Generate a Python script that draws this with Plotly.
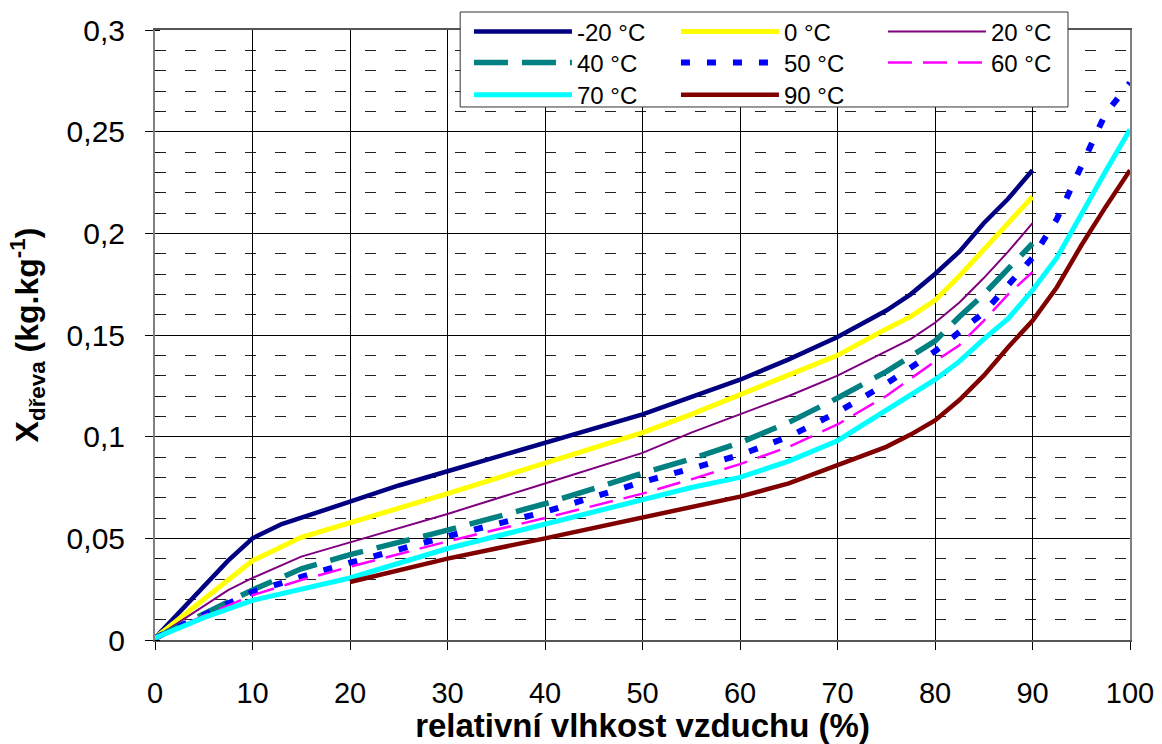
import plotly.graph_objects as go

# ---- data (relative humidity %, wood moisture kg/kg) ----
x_m20 = [0, 7.5, 10, 13, 20, 25, 30, 40, 50, 60, 65, 70, 75, 77.5, 80, 82.5, 85, 87.5, 90]
y_m20 = [0.001, 0.039, 0.050, 0.057, 0.068, 0.076, 0.083, 0.097, 0.111, 0.128, 0.138, 0.149, 0.162, 0.170, 0.180, 0.191, 0.205, 0.217, 0.231]

x_0 = [0, 5, 10, 15, 20, 30, 40, 50, 55, 60, 65, 70, 75, 77.5, 80, 82.5, 85, 87.5, 90]
y_0 = [0.001, 0.020, 0.039, 0.0505, 0.0575, 0.072, 0.087, 0.102, 0.111, 0.1205, 0.130, 0.140, 0.153, 0.159, 0.167, 0.179, 0.192, 0.205, 0.218]

x_20 = [0, 7.5, 10, 15, 20, 30, 40, 50, 55, 60, 65, 70, 75, 77.5, 80, 82.5, 85, 87.5, 90]
y_20 = [0.001, 0.0245, 0.0305, 0.041, 0.048, 0.062, 0.077, 0.092, 0.102, 0.111, 0.120, 0.130, 0.142, 0.148, 0.156, 0.166, 0.178, 0.191, 0.205]

x_40 = [0, 5, 10, 15, 20, 30, 40, 50, 55, 60, 65, 70, 75, 80, 82.5, 85, 87.5, 90]
y_40 = [0.001, 0.013, 0.0246, 0.035, 0.042, 0.054, 0.067, 0.082, 0.089, 0.097, 0.107, 0.119, 0.132, 0.147, 0.159, 0.170, 0.183, 0.195]

x_50 = [0, 5, 10, 15, 20, 30, 40, 50, 55, 60, 65, 70, 75, 80, 85, 90, 92.5, 95, 97.5, 100]
y_50 = [0.001, 0.012, 0.0236, 0.031, 0.038, 0.051, 0.063, 0.0777, 0.084, 0.091, 0.100, 0.112, 0.126, 0.142, 0.161, 0.188, 0.207, 0.233, 0.259, 0.274]

x_60 = [0, 5, 10, 15, 20, 30, 40, 50, 55, 60, 65, 70, 75, 80, 82.5, 85, 87.5, 90]
y_60 = [0.001, 0.012, 0.022, 0.0295, 0.036, 0.0485, 0.060, 0.072, 0.079, 0.0865, 0.095, 0.106, 0.120, 0.137, 0.145, 0.157, 0.170, 0.181]

x_70 = [0, 5, 10, 15, 20, 30, 40, 50, 55, 60, 65, 70, 75, 77.5, 80, 82.5, 85, 87.5, 90, 92.5, 95, 97.5, 100]
y_70 = [0.001, 0.011, 0.0195, 0.025, 0.0305, 0.045, 0.057, 0.0695, 0.075, 0.080, 0.088, 0.098, 0.113, 0.120, 0.128, 0.137, 0.148, 0.158, 0.172, 0.188, 0.2095, 0.2305, 0.251]

x_90 = [20, 30, 40, 50, 55, 60, 65, 70, 75, 77.5, 80, 82.5, 85, 87.5, 90, 92.5, 95, 97.5, 100]
y_90 = [0.0285, 0.040, 0.050, 0.060, 0.065, 0.0705, 0.077, 0.086, 0.095, 0.101, 0.108, 0.118, 0.130, 0.144, 0.157, 0.1735, 0.194, 0.213, 0.231]

x_ticks = [0, 10, 20, 30, 40, 50, 60, 70, 80, 90, 100]
y_ticks = [0, 0.05, 0.1, 0.15, 0.2, 0.25, 0.3]
y_tick_labels = ["0", "0,05", "0,1", "0,15", "0,2", "0,25", "0,3"]

# name, x, y, colour, width, dash, legend row
series = [
    ("-20 °C", x_m20, y_m20, "#000080", 4.5, "solid", "legend"),
    ("0 °C", x_0, y_0, "#FFFF00", 5, "solid", "legend"),
    ("20 °C", x_20, y_20, "#800080", 2, "solid", "legend"),
    ("40 °C", x_40, y_40, "#008080", 5.5, "34px,14px", "legend2"),
    ("50 °C", x_50, y_50, "#0000FF", 6, "9px,17px", "legend2"),
    ("60 °C", x_60, y_60, "#FF00FF", 2.5, "24px,11px", "legend2"),
    ("70 °C", x_70, y_70, "#00FFFF", 5, "solid", "legend3"),
    ("90 °C", x_90, y_90, "#800000", 4.5, "solid", "legend3"),
]

fig = go.Figure()
for name, xs, ys, col, w, dash, leg in series:
    fig.add_trace(go.Scatter(x=xs, y=ys, mode="lines", name=name, legend=leg,
                             line=dict(color=col, width=w, dash=dash)))

FONT = "Arial, Liberation Sans, sans-serif"

LEG_X = 0.322
def leg(yc):
    return dict(orientation="h", x=LEG_X, y=yc, xanchor="left", yanchor="middle",
                bgcolor="rgba(0,0,0,0)", borderwidth=0,
                font=dict(size=24, family=FONT), entrywidth=94, entrywidthmode="pixels",
                itemwidth=98, tracegroupgap=0, traceorder="normal")

fig.update_layout(
    width=1162, height=744,
    margin=dict(l=155, r=32, t=30, b=104, autoexpand=False),
    paper_bgcolor="white", plot_bgcolor="white",
    font=dict(family=FONT, color="black"),
    showlegend=True,
    legend=leg(0.9967),
    legend2=leg(0.9459),
    legend3=leg(0.8934),
    shapes=[dict(type="rect", xref="paper", yref="paper",
                 x0=0.313, x1=0.9364, y0=0.8738, y1=1.0295,
                 fillcolor="white", line=dict(color="#333333", width=1), layer="above")],
)

fig.update_xaxes(
    range=[0, 100], tickvals=x_ticks, ticktext=[str(v) for v in x_ticks],
    showgrid=True, gridcolor="black", gridwidth=1,
    showline=True, linecolor="#555555", linewidth=1.5, mirror=True,
    ticks="outside", ticklen=8, tickcolor="black",
    tickfont=dict(size=29, family=FONT), ticklabelstandoff=18,
    zeroline=False,
    title=dict(text="<b>relativní vlhkost vzduchu (%)</b>", font=dict(size=33, family=FONT), standoff=2),
)

fig.update_yaxes(
    range=[0, 0.3], tickvals=y_ticks, ticktext=y_tick_labels,
    showgrid=True, gridcolor="black", gridwidth=1,
    showline=True, linecolor="#808080", linewidth=2, mirror=True,
    ticks="outside", ticklen=8, tickcolor="black",
    tickfont=dict(size=30, family=FONT), ticklabelstandoff=14,
    zeroline=False,
    minor=dict(dtick=0.01, showgrid=True, gridcolor="#222222", gridwidth=1,
               griddash="11px,19px", ticks="inside", ticklen=5, tickcolor="black"),
    title=dict(text="<b>X<sub>dřeva</sub> (kg.kg<sup>-1</sup>)</b>", font=dict(size=32, family=FONT), standoff=18),
)

fig.write_html("out.html")
